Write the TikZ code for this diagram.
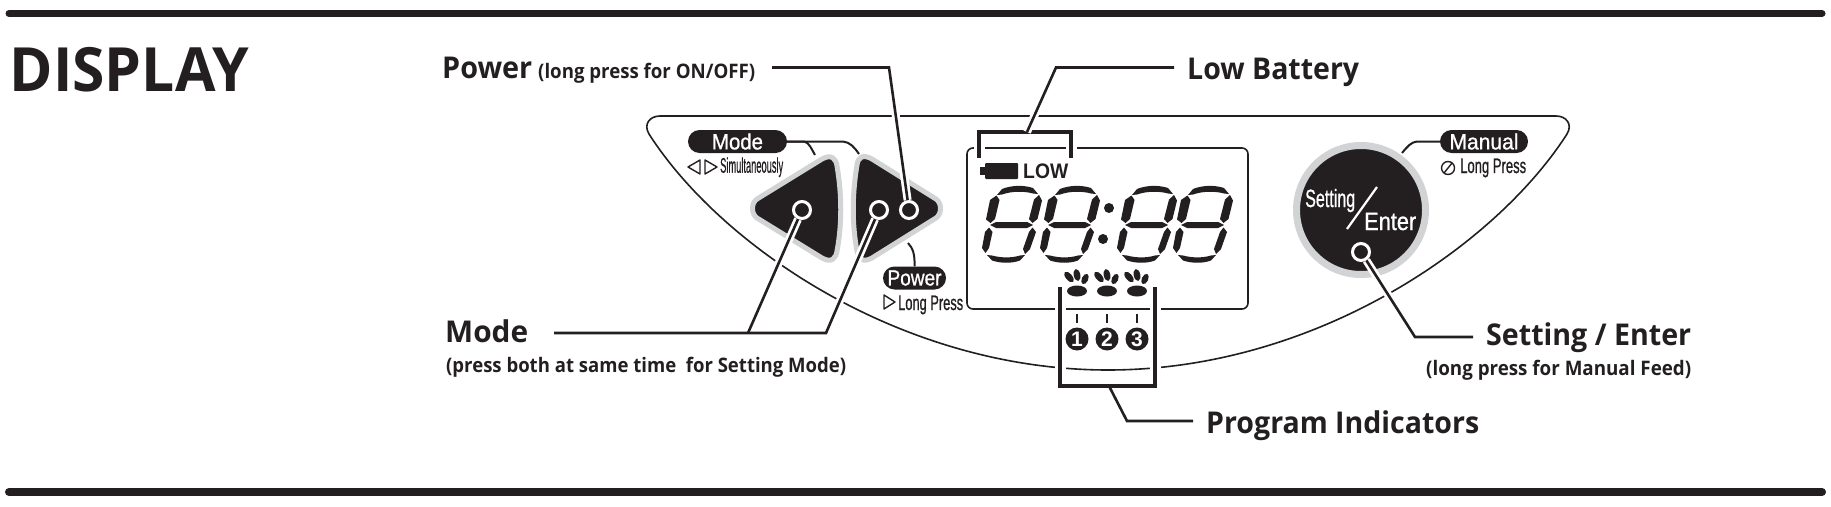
\documentclass[tikz,border=0pt]{standalone}
\usepackage{fontspec}
\usepackage{graphicx}
\usetikzlibrary{positioning}
\usetikzlibrary{shapes.misc}
\newfontfamily\labelFont{Open Sans}
\newfontfamily\panelFont{Liberation Sans}[FakeBold=1]
\newfontfamily\numFont{Liberation Sans}
\definecolor{pBlack}{HTML}{231F20}
\definecolor{pGray}{HTML}{D1D3D4}
\newcommand{\fitText}[2]{\resizebox{#1}{\height}{#2}}
\tikzset{
  headLabel/.style={anchor=base west, inner sep=0pt, text=pBlack, font=\labelFont\bfseries\fontsize{30}{30}\selectfont},
  subLabel/.style={anchor=base west, inner sep=0pt, text=pBlack, font=\labelFont\bfseries\fontsize{20}{20}\selectfont},
  panelText/.style={anchor=base west, inner sep=0pt, text=pBlack, font=\panelFont\fontsize{21}{21}\selectfont},
  whiteText/.style={anchor=base west, inner sep=0pt, text=white, font=\panelFont\fontsize{25}{25}\selectfont},
  pillBox/.style={rounded rectangle, fill=pBlack, inner sep=0pt, minimum height=23pt, text=white, font=\panelFont\fontsize{22}{22}\selectfont},
  pressDot/.style={circle, fill=pBlack, draw=white, line width=3pt, inner sep=0pt, minimum size=17pt},
  leadHalo/.style={draw=white, line width=8pt},
  leadLine/.style={draw=pBlack, line width=2.6pt},
  pillLine/.style={draw=pBlack, line width=2pt},
  panelLine/.style={draw=pBlack, line width=1.6pt},
  bracketLine/.style={draw=pBlack, line width=3.4pt, preaction={draw=white, line width=11pt}},
  buttonShape/.style={fill=pBlack, draw=pGray, line width=5pt, line join=round},
  numDot/.style={circle, fill=pBlack, inner sep=0pt, minimum size=23pt, text=white, font=\numFont\bfseries\fontsize{21}{21}\selectfont},
}
\begin{document}
\begin{tikzpicture}[x=1pt, y=-1pt]
    \useasboundingbox (0,0) rectangle (1831,506);

    % rules and heading
    \draw[pBlack, line width=7pt, line cap=round] (9,13.5) -- (1822,13.5);
    \draw[pBlack, line width=8pt, line cap=round] (9,492) -- (1822,492);
    \node[headLabel, font=\labelFont\bfseries\fontsize{61}{61}\selectfont] (heading) at (9.5,91) {\fitText{239pt}{DISPLAY}};

    % panel and lcd frame
    \draw[panelLine] (660,116) -- (1556,116)
      .. controls (1566,116) and (1573,124) .. (1567,134)
      .. controls (1496,245) and (1316,370) .. (1108,370)
      .. controls (900,370) and (720,245) .. (649,134)
      .. controls (643,124) and (650,116) .. (660,116) -- cycle;
    \draw[panelLine, fill=white, rounded corners=6pt] (967,148) rectangle (1248,309);

    % buttons
    \draw[buttonShape] (757,199) -- (822,159)
      .. controls (831,154) and (836,158) .. (837,166)
      .. controls (842,195) and (842,225) .. (837,251)
      .. controls (836,259) and (831,263) .. (822,258)
      -- (757,218) .. controls (751,214) and (751,203) .. (757,199) -- cycle;
    \draw[buttonShape] (936,199) -- (872,159)
      .. controls (863,154) and (858,157) .. (857,165)
      .. controls (852,195) and (852,225) .. (857,251)
      .. controls (858,259) and (863,263) .. (872,258)
      -- (936,218) .. controls (942,214) and (942,203) .. (936,199) -- cycle;
    \draw[fill=pBlack, draw=pGray, line width=7pt] (1361,210) circle (64.5pt);
    \draw[white, line width=2.2pt] (1377,187) -- (1347,229);
    \node[whiteText] (settingText) at (1305,207) {\fitText{50pt}{Setting}};
    \node[whiteText] (enterText) at (1364,230) {\fitText{52pt}{Enter}};

    \node[pressDot] (modeLDot) at (802,210) {};
    \node[pressDot] (modeRDot) at (879,210) {};
    \node[pressDot] (powerDot) at (909,210) {};
    \node[pressDot] (settingDot) at (1361,252) {};

    % small labels on the panel
    \node[pillBox, minimum width=99pt] (modePill) at (737.5,141.5) {\fitText{51pt}{Mode}};
    \node[pillBox, minimum width=63pt] (powerPill) at (914.5,278) {\fitText{54pt}{Power}};
    \node[pillBox, minimum width=88pt] (manualPill) at (1484,141.5) {\fitText{69pt}{Manual}};
    \draw[pillLine, line join=round, line width=1.4pt] (700,160) -- (700,174) -- (688,167) -- cycle;
    \draw[pillLine, line join=round, line width=1.4pt] (705,160) -- (705,174) -- (717,167) -- cycle;
    \node[panelText] (simText) at (720,172.7) {\fitText{63pt}{Simultaneously}};
    \draw[pillLine, line join=round, line width=1.4pt] (884,295) -- (884,309) -- (895,302) -- cycle;
    \node[panelText] (powerPress) at (898,310) {\fitText{65pt}{Long Press}};
    \draw[pillLine, line width=1.4pt] (1448,168) circle (6.5pt);
    \draw[pillLine, line width=1.4pt] (1444,173) -- (1452,163);
    \node[panelText] (manualPress) at (1460,173) {\fitText{66pt}{Long Press}};

    \coordinate (modeTickL) at (815,155);
    \coordinate (modeTickR) at (859,154);
    \coordinate (powerTick) at (908,243);
    \coordinate (manualTick) at (1402,153);
    \draw[pillLine] (modePill.east) -- (804,141.5) .. controls (809,142) and (812,150) .. (modeTickL);
    \draw[pillLine] (modePill.east) -- (843,141.5) .. controls (850,142) and (855,148) .. (modeTickR);
    \draw[pillLine] (powerTick) .. controls (913,248) and (915,255) .. (powerPill.north);
    \draw[pillLine] (manualPill.west) -- (1417,141.5) .. controls (1411,142) and (1407,147) .. (manualTick);

    % lcd digits
    \foreach \dx in {0,58,135,191} {
      \begin{scope}[xshift=\dx pt]
        \fill[pBlack] (997,195) -- (1002,189) .. controls (1012,185) and (1024,185) .. (1033,188)
          -- (1038,194) -- (1033,193.5) .. controls (1024,191) and (1012,191) .. (1002,194.5) -- cycle;
        \fill[pBlack] (996.5,195.5) -- (999.5,200) -- (995,219) -- (990.5,223) -- (986,219.5) -- (990,200) -- cycle;
        \fill[pBlack] (1039,195) -- (1042,200.5) -- (1037.5,219) -- (1032.5,223) -- (1029,219) -- (1034,199.5) -- cycle;
        \fill[pBlack] (990,225) -- (996,222) -- (1027,222) -- (1033,225) -- (1027,228) -- (996,228) -- cycle;
        \fill[pBlack] (989,227.5) -- (992.5,232) -- (989,248) -- (985.5,253) -- (982,248) -- (985,232) -- cycle;
        \fill[pBlack] (1032.5,227.5) -- (1036,232) -- (1030,249) -- (1025,254) -- (1023,249) -- (1029,232) -- cycle;
        \fill[pBlack] (987,255) -- (992,255.5) .. controls (1001,258) and (1012,258) .. (1020,255.5)
          -- (1025,255) -- (1020,260.5) .. controls (1012,263.5) and (1001,263.5) .. (992,260.5) -- cycle;
      \end{scope}
    }
    \fill[pBlack] (1109,208) circle (5pt);
    \fill[pBlack] (1103,239) circle (5pt);

    % low battery
    \draw[bracketLine] (979,158) -- (979,132) -- (1071,132) -- (1071,158);
    \fill[pBlack, rounded corners=1pt] (985,163) rectangle (1018,179);
    \fill[pBlack] (980,167) rectangle (986,175);
    \node[panelText, font=\numFont\bfseries\fontsize{21}{21}\selectfont] (lowText) at (1023,178) {\fitText{45pt}{LOW}};

    % program indicators
    \draw[bracketLine] (1060,287) -- (1060,386) -- (1155,386) -- (1155,287);
    \foreach \n/\px in {1/1077,2/1107,3/1137} {
      \fill[pBlack] (\px,291) ellipse (10pt and 5.5pt);
      \fill[pBlack, rotate around={40:(\px-8,277)}] (\px-8,277) ellipse (3.2pt and 6.5pt);
      \fill[pBlack, rotate around={12:(\px,275)}] (\px,275) ellipse (3.3pt and 6pt);
      \fill[pBlack, rotate around={-25:(\px+8,279)}] (\px+8,279) ellipse (3.2pt and 5.5pt);
      \draw[pBlack, line width=2pt] (\px,314) -- (\px,323);
      \node[numDot] (prog\n) at (\px,339) {\n};
    }

    % leaders
    \node[headLabel] (powerLabel) at (442,78) {\fitText{90pt}{Power}};
    \node[subLabel] (powerSub) at (538,78) {\fitText{217pt}{(long press for ON/OFF)}};
    \coordinate (powerBend) at (889,67.5);
    \coordinate (powerEnd) at (772,67.5);
    \draw[leadHalo] (powerDot) -- (powerBend);
    \draw[leadLine] (powerDot) -- (powerBend) -- (powerEnd);

    \node[headLabel] (lowLabel) at (1187,79) {\fitText{172pt}{Low Battery}};
    \coordinate (lowStart) at (1027,132);
    \coordinate (lowBend) at (1056,67.5);
    \coordinate (lowEnd) at (1174,67.5);
    \draw[leadHalo] (lowStart) -- (lowBend);
    \draw[leadLine] (lowStart) -- (lowBend) -- (lowEnd);

    \node[headLabel] (modeLabel) at (445,342) {\fitText{83pt}{Mode}};
    \node[subLabel] (modeSub) at (446,372) {\fitText{400pt}{(press both at same time\ \ for Setting Mode)}};
    \coordinate (modeLBend) at (748,333);
    \coordinate (modeRBend) at (826,333);
    \coordinate (modeEnd) at (554,333);
    \draw[leadHalo] (modeLDot) -- (modeLBend);
    \draw[leadHalo] (modeRDot) -- (modeRBend);
    \draw[leadLine] (modeLDot) -- (modeLBend);
    \draw[leadLine] (modeRDot) -- (modeRBend) -- (modeEnd);

    \node[headLabel] (settingLabel) at (1486,345) {\fitText{205pt}{Setting / Enter}};
    \node[subLabel] (settingSub) at (1426,375) {\fitText{265pt}{(long press for Manual Feed)}};
    \coordinate (settingBend) at (1415,337);
    \coordinate (settingEnd) at (1473,337);
    \draw[leadHalo] (settingDot) -- (settingBend);
    \draw[leadLine] (settingDot) -- (settingBend) -- (settingEnd);

    \node[headLabel] (progLabel) at (1206,433) {\fitText{273pt}{Program Indicators}};
    \coordinate (progStart) at (1109,386);
    \coordinate (progBend) at (1127,421);
    \coordinate (progEnd) at (1193,421);
    \draw[leadLine] (progStart) -- (progBend) -- (progEnd);
\end{tikzpicture}
\end{document}
